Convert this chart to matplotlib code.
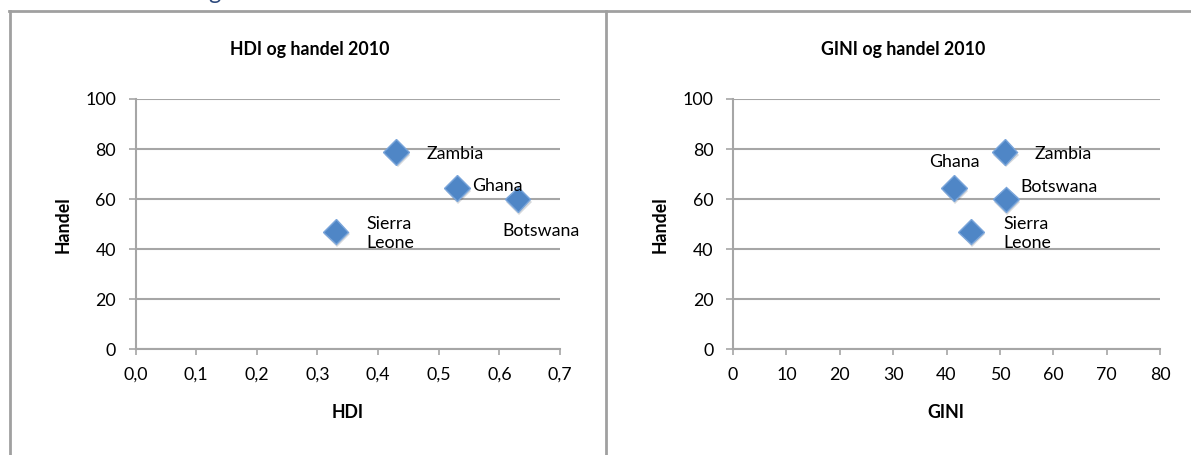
import matplotlib.pyplot as plt
from matplotlib.ticker import FuncFormatter
import matplotlib.patheffects as pe
import numpy as np

# data
countries = ['Zambia', 'Ghana', 'Botswana', 'Sierra\nLeone']
hdi = [0.43, 0.53, 0.63, 0.33]
gini = [50.9, 41.4, 51.1, 44.6]
handel = [78.9, 64.4, 59.8, 47.0]

hdi_ticks = [0.0, 0.1, 0.2, 0.3, 0.4, 0.5, 0.6, 0.7]
gini_ticks = [0, 10, 20, 30, 40, 50, 60, 70, 80]
handel_ticks = [0, 20, 40, 60, 80, 100]

# label offsets in pixels, (dx, dy, ha)
hdi_offsets = [(30, -2, 'left'), (15, 2, 'left'), (23, -32, 'center'), (31, -2, 'left')]
gini_offsets = [(30, -2, 'left'), (0, 26, 'center'), (15, 13, 'left'), (32, -2, 'left')]

plt.rcParams['font.family'] = ['Lato', 'DejaVu Sans']
GRAY = '#A6A6A6'
BLUE = '#4F86C6'
FS = 12.8


def draw_scatter(ax, xs, ys, xticks, offsets, fmt):
    ax.set_xlim(xticks[0], xticks[-1])
    ax.set_ylim(0, 100)
    ax.set_xticks(xticks)
    ax.set_yticks(handel_ticks)
    ax.xaxis.set_major_formatter(FuncFormatter(fmt))
    ax.grid(axis='y', color=GRAY, lw=1.5)
    ax.set_axisbelow(True)
    for s in ['top', 'right']:
        ax.spines[s].set_visible(False)
    for s in ['left', 'bottom']:
        ax.spines[s].set_color(GRAY)
        ax.spines[s].set_linewidth(1.5)
    ax.tick_params(axis='x', direction='out', length=4, width=1.2, color=GRAY, pad=9, labelsize=FS)
    ax.tick_params(axis='y', direction='out', length=5, width=1.2, color=GRAY, pad=9, labelsize=FS)
    ax.plot(xs, ys, ls='none', marker='D', ms=13, mfc=BLUE, mec='#7AA5DA', mew=1,
            clip_on=False, zorder=3,
            path_effects=[pe.SimplePatchShadow(offset=(1, -2), alpha=0.18), pe.Normal()])
    for x, y, name, (dx, dy, ha) in zip(xs, ys, countries, offsets):
        ax.annotate(name, (x, y), xytext=(dx, dy), textcoords='offset pixels',
                    ha=ha, va='center', fontsize=FS, linespacing=1.3)


fig = plt.figure(figsize=(11.91, 4.55), dpi=100)

ax1 = fig.add_axes([135.5 / 1191, 106 / 455, 424.5 / 1191, 250 / 455])
draw_scatter(ax1, hdi, handel, hdi_ticks, hdi_offsets, lambda v, p: f'{v:.1f}'.replace('.', ','))

ax2 = fig.add_axes([733 / 1191, 106 / 455, 427 / 1191, 250 / 455])
draw_scatter(ax2, gini, handel, gini_ticks, gini_offsets, lambda v, p: f'{v:.0f}')

# titles and axis labels placed like the spreadsheet chart
fig.text(310 / 1191, 1 - 50 / 455, 'HDI og handel 2010', ha='center', va='center', fontsize=FS, fontweight='bold')
fig.text(903 / 1191, 1 - 50 / 455, 'GINI og handel 2010', ha='center', va='center', fontsize=FS, fontweight='bold')
fig.text(348 / 1191, 1 - 412 / 455, 'HDI', ha='center', va='center', fontsize=FS, fontweight='bold')
fig.text(946 / 1191, 1 - 412 / 455, 'GINI', ha='center', va='center', fontsize=FS, fontweight='bold')
fig.text(63 / 1191, 1 - 225 / 455, 'Handel', ha='center', va='center', rotation=90, fontsize=FS, fontweight='bold')
fig.text(660 / 1191, 1 - 225 / 455, 'Handel', ha='center', va='center', rotation=90, fontsize=FS, fontweight='bold')

# chart borders
border = dict(color='#A0A0A0', lw=2, transform=fig.transFigure, zorder=10)
fig.add_artist(plt.Line2D([10 / 1191, 10 / 1191], [0, 1 - 11 / 455], **border))
fig.add_artist(plt.Line2D([606 / 1191, 606 / 1191], [0, 1 - 11 / 455], **border))
fig.add_artist(plt.Line2D([9 / 1191, 1], [1 - 11 / 455, 1 - 11 / 455], **border))

# tail of a heading cut off above the picture
fig.text(214 / 1191, 1 + 1 / 455, 'g', ha='center', va='baseline', fontsize=17, color='#2E4A7D')

fig.savefig('out.png', dpi=100)
